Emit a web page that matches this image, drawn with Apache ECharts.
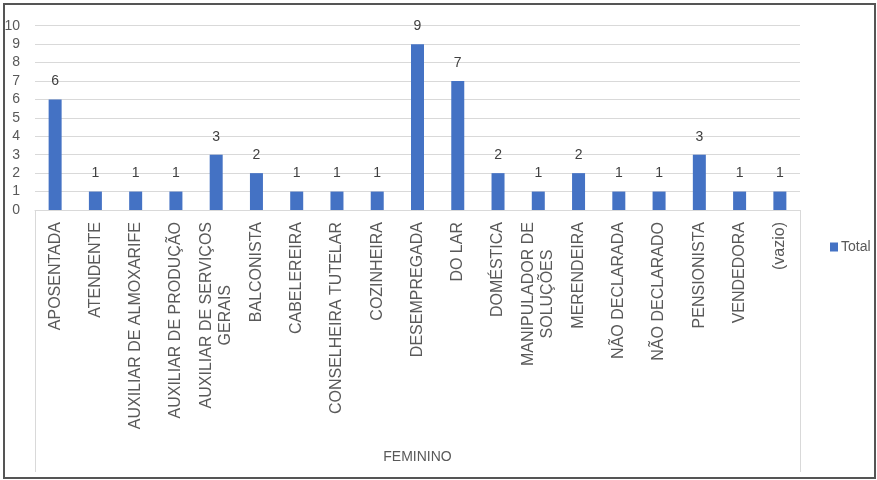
<!DOCTYPE html>
<html>
<head>
<meta charset="utf-8">
<script src="https://cdn.jsdelivr.net/npm/echarts@6/dist/echarts.min.js"></script>
<style>
  html, body { margin: 0; padding: 0; background: #fff; }
  #wrap { position: relative; width: 877px; height: 480px; }
  #chart { position: absolute; left: 0; top: 0; width: 877px; height: 480px; }
  #frame { position: absolute; left: 3px; top: 3px; width: 869px; height: 472px;
           border: 2px solid #555; pointer-events: none; }
</style>
</head>
<body>
<div id="wrap">
  <div id="chart"></div>
  <div id="frame"></div>
</div>
<script>
// Occupations of the women surveyed (count per category)
const categories = [
  'APOSENTADA', 'ATENDENTE', 'AUXILIAR DE ALMOXARIFE', 'AUXILIAR DE PRODUÇÃO',
  'AUXILIAR DE SERVIÇOS GERAIS', 'BALCONISTA', 'CABELEREIRA', 'CONSELHEIRA TUTELAR',
  'COZINHEIRA', 'DESEMPREGADA', 'DO LAR', 'DOMÉSTICA', 'MANIPULADOR DE SOLUÇÕES',
  'MERENDEIRA', 'NÃO DECLARADA', 'NÃO DECLARADO', 'PENSIONISTA', 'VENDEDORA', '(vazio)'
];
const totals = [6, 1, 1, 1, 3, 2, 1, 1, 1, 9, 7, 2, 1, 2, 1, 1, 3, 1, 1];
const seriesName = 'Total';
const groupName = 'FEMININO';
const yTicks = { min: 0, max: 10, step: 1 };

// Long category names break onto two lines
const lineBreaks = {
  'AUXILIAR DE SERVIÇOS GERAIS': ['AUXILIAR DE SERVIÇOS', 'GERAIS'],
  'MANIPULADOR DE SOLUÇÕES': ['MANIPULADOR DE', 'SOLUÇÕES']
};

const font = "'Liberation Sans', Arial, sans-serif";
const textColor = '#595959';

const chart = echarts.init(document.getElementById('chart'), null, { renderer: 'canvas' });
chart.setOption({
  animation: false,
  backgroundColor: '#fff',
  grid: { left: 35, right: 77, top: 25.7, bottom: 270, containLabel: false },
  legend: {
    data: [seriesName],
    left: 825, top: 235,
    itemWidth: 8, itemHeight: 9, itemGap: 4,
    icon: 'rect',
    textStyle: { fontFamily: font, fontSize: 14, color: textColor, padding: [0, 0, 0, -2] }
  },
  xAxis: {
    type: 'category',
    data: categories,
    name: groupName,
    nameLocation: 'middle',
    nameGap: 247,
    nameTextStyle: { fontFamily: font, fontSize: 14, color: textColor, verticalAlign: 'middle' },
    axisLine: { show: true, lineStyle: { color: '#d9d9d9', width: 1 } },
    axisTick: {
      show: true,
      length: 262,
      interval: (idx) => idx === 0,
      lineStyle: { color: '#d9d9d9', width: 1 }
    },
    axisLabel: {
      rotate: 90,
      interval: 0,
      margin: 12,
      fontFamily: font,
      fontSize: 16,
      color: textColor,
      lineHeight: 19,
      formatter: (v) => {
        const parts = lineBreaks[v] || [v];
        return parts.map(p => '{c|' + p + '}').join('\n');
      },
      rich: { c: { align: 'center', fontFamily: font, fontSize: 16, color: textColor, lineHeight: 19 } }
    }
  },
  yAxis: {
    type: 'value',
    min: yTicks.min, max: yTicks.max, interval: yTicks.step,
    axisLine: { show: false },
    axisTick: { show: false },
    axisLabel: { margin: 15, fontFamily: font, fontSize: 14, color: textColor },
    splitLine: { lineStyle: { color: '#d9d9d9', width: 1 } }
  },
  series: [{
    name: seriesName,
    type: 'bar',
    data: totals,
    barWidth: 13,
    itemStyle: { color: '#4472C4' },
    label: {
      show: true,
      position: 'top',
      distance: 11,
      fontFamily: font,
      fontSize: 14,
      color: '#404040'
    }
  }]
});
</script>
</body>
</html>
